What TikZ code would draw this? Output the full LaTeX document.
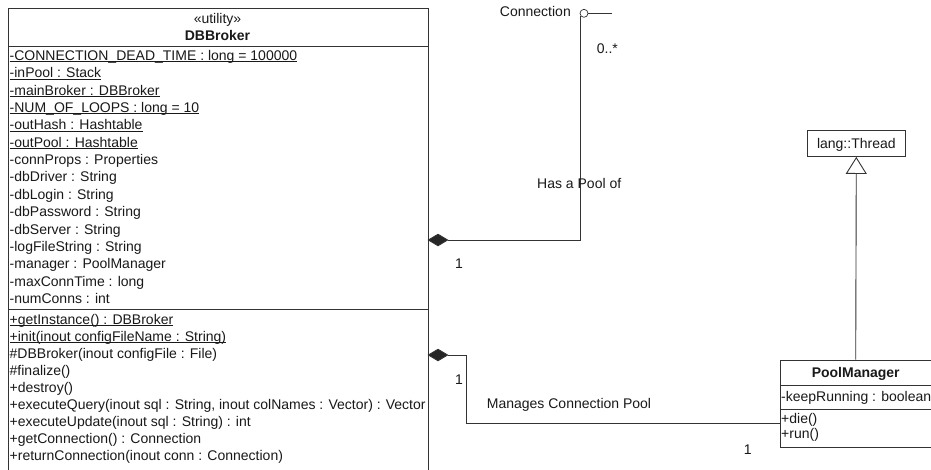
\documentclass[tikz,border=0pt]{standalone}
\usepackage{fontspec}
\setmainfont{Liberation Sans}
\usetikzlibrary{arrows.meta}
\newsavebox\ulbox
\newcommand\myul[1]{\sbox\ulbox{#1}\rlap{\rule[-1.6pt]{\wd\ulbox}{0.7pt}}\usebox\ulbox}
\begin{document}
\begin{tikzpicture}[x=1pt,y=-1pt,
  font=\fontsize{14}{16}\selectfont,
  txt/.style={anchor=base west, inner sep=0pt, text=black!90},
  lbl/.style={anchor=base, inner sep=0pt, text=black!90},
  ln/.style={draw=black!80, line width=0.9pt},
  classbox/.style={draw=black!80, line width=0.9pt, anchor=north west, inner sep=0pt},
  comp/.style={ln, {Diamond[length=21pt,width=12.5pt,fill=black!85]}-},
  gen/.style={ln, -{Triangle[open,length=17pt,width=21pt,fill=white]}}]
\useasboundingbox (0,0) rectangle (931,469);
\fill[white] (0,0) rectangle (931,469);
\clip (0,0) rectangle (931,469);

% ---- DBBroker ----
\node[classbox, minimum width=419.5pt, minimum height=490pt] (db) at (8,8) {};
\draw[ln] (8,46.5) -- (427.5,46.5);
\draw[ln] (8,309.5) -- (427.5,309.5);
\node[lbl] (st) at (217.5,23) {«utility»};
\node[lbl, font=\fontsize{14}{16}\selectfont\bfseries] (dbn) at (217.5,40) {DBBroker};

\foreach \t [count=\i from 0] in {
  {\myul{-CONNECTION\_DEAD\_TIME : long = 100000}},
  {\myul{-inPool : Stack}},
  {\myul{-mainBroker : DBBroker}},
  {\myul{-NUM\_OF\_LOOPS : long = 10}},
  {\myul{-outHash : Hashtable}},
  {\myul{-outPool : Hashtable}},
  {-connProps : Properties},
  {-dbDriver : String},
  {-dbLogin : String},
  {-dbPassword : String},
  {-dbServer : String},
  {-logFileString : String},
  {-manager : PoolManager},
  {-maxConnTime : long},
  {-numConns : int}}
  \node[txt] (a\i) at (9.5,60.5+17.35*\i) {\t};

\foreach \t [count=\i from 0] in {
  {\myul{+getInstance() : DBBroker}},
  {\myul{+init(inout configFileName : String)}},
  {\#DBBroker(inout configFile : File)},
  {\#finalize()},
  {+destroy()},
  {+executeQuery(inout sql : String, inout colNames : Vector) : Vector},
  {+executeUpdate(inout sql : String) : int},
  {+getConnection() : Connection},
  {+returnConnection(inout conn : Connection)}}
  \node[txt] (m\i) at (9.5,324.5+17.0*\i) {\t};

% ---- lang::Thread ----
\node[classbox, minimum width=98.3pt, minimum height=26pt] (thr) at (806.7,130) {};
\node[lbl] (thrn) at (thr.center |- 0,148) {lang::Thread};

% ---- PoolManager ----
\node[classbox, minimum width=150.5pt, minimum height=87.5pt] (pm) at (780,359.5) {};
\draw[ln] (780,385) -- (930.5,385);
\draw[ln] (780,409.5) -- (930.5,409.5);
\node[lbl, font=\fontsize{14}{16}\selectfont\bfseries] (pmn) at (pm.center |- 0,377.5) {PoolManager};
\node[txt] (p1) at (781,401) {-keepRunning : boolean};
\node[txt] (p2) at (781,423.5) {+die()};
\node[txt] (p3) at (781,438) {+run()};

% ---- Connection (collapsed) ----
\node[circle, draw=black!80, line width=0.7pt, minimum size=8pt, inner sep=0pt] (conn) at (584,13.3) {};
\node[inner sep=0pt, anchor=base east, text=black!90] (connl) at (571,16.5) {Connection};
\coordinate (cr) at (612,13.3);
\draw[ln] (conn.east) -- (cr);

% ---- associations ----
\coordinate (d1) at (427.5,240);
\coordinate (d2) at (427.5,355);
\coordinate (pmL) at (780,423.3);
\draw[comp] (d1) -- (conn.215 |- d1) -- (conn.215);
\draw[comp] (d2) -- (466.7,355) |- (pmL);
\draw[gen] (pm.north) -- (thr.south);

% ---- labels ----
\node[txt] (mult1) at (596.7,53.3) {0..*};
\node[txt] (has) at (537,188.3) {Has a Pool of};
\node[lbl] (one1) at (459,268.3) {1};
\node[lbl] (one2) at (459,384) {1};
\node[txt] (mng) at (486.7,408.6) {Manages Connection Pool};
\node[lbl] (one3) at (747.7,454) {1};
\end{tikzpicture}
\end{document}
